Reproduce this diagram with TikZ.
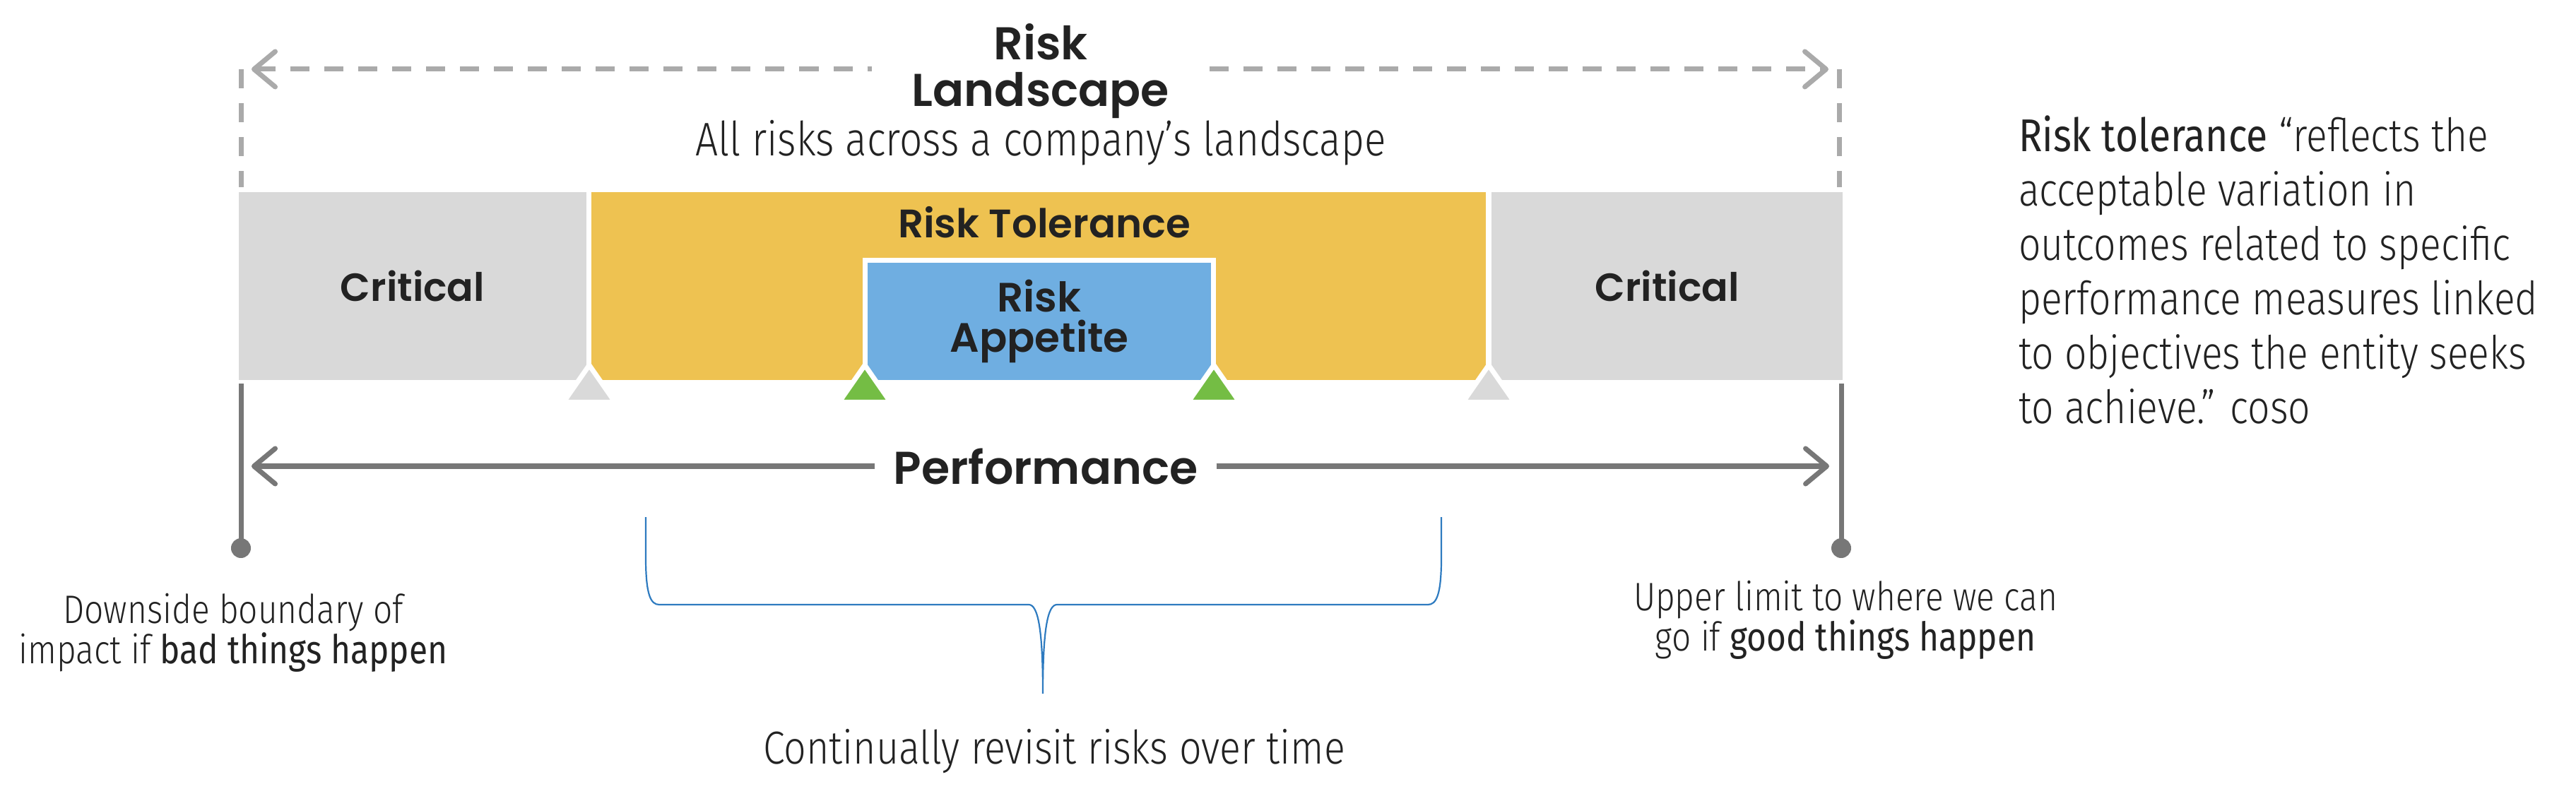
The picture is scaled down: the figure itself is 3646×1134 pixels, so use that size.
\documentclass[tikz,border=0pt]{standalone}
\usepackage{fontspec}
\usetikzlibrary{arrows.meta,positioning}
\newfontfamily\thinfont{Fira Sans Light}[FakeStretch=0.85]
\newfontfamily\plainfont{Fira Sans}[FakeStretch=0.85]
\newfontfamily\headfont{Poppins SemiBold}
\definecolor{tinta}{HTML}{222222}
\definecolor{critgris}{HTML}{D9D9D9}
\definecolor{tolamarillo}{HTML}{EEC251}
\definecolor{appazul}{HTML}{6FAEE1}
\definecolor{tickverde}{HTML}{74BD44}
\definecolor{dashgris}{HTML}{AAAAAA}
\definecolor{linegris}{HTML}{777777}
\definecolor{braceazul}{HTML}{2E7BC0}

\tikzset{
  risk diagram/.style={
      x=0.01cm, y=-0.01cm,
      band/.style={rectangle, minimum height=2.66cm, font={\headfont\fontsize{15.8}{18}\selectfont}},
      appetite/.style={rectangle, fill=appazul, draw=white, line width=0.07cm,
          minimum width=4.93cm, minimum height=1.73cm, align=center,
          font={\headfont\fontsize{16.5}{16.2}\selectfont}},
      tick/.style={draw=white, line width=0.07cm, line join=round},
      head/.style={font={\headfont\fontsize{18.5}{18.5}\selectfont}, align=center},
      note/.style={font={\thinfont\fontsize{16}{16.2}\selectfont}, align=center},
      dash line/.style={dashgris, line width=0.07cm, dash pattern=on 0.27cm off 0.21cm},
      limit line/.style={linegris, line width=0.07cm},
      dot/.style={circle, fill=linegris, minimum size=0.28cm},
      brace line/.style={braceazul, line width=0.022cm},
      >={Straight Barb[length=0.3cm, width=0.5cm, round]},
      every node/.style={inner sep=0pt, outer sep=0pt, text=tinta},
    },
}

\begin{document}
\begin{tikzpicture}[risk diagram]
  \useasboundingbox (0,0) rectangle (3646,1134);

  \node[band, fill=critgris, minimum width=4.92cm] (crit-l) at (584,405) {Critical};
  \node[band, fill=tolamarillo, minimum width=12.66cm] (tol) at (1470,405) {};
  \node[band, fill=critgris, minimum width=4.97cm] (crit-r) at (2359.5,405) {Critical};
  \node[band, anchor=base, font={\headfont\fontsize{16}{18}\selectfont}] (tol-text) at (1478,337) {Risk Tolerance};
  \node[appetite] (app) at (1471,455) {Risk\\Appetite};

  \foreach \x/\c in {834/critgris, 1224/tickverde, 1718/tickverde, 2107/critgris}
    \draw[tick, fill=\c] (\x,517) -- (\x-36.5,569.5) -- (\x+36.5,569.5) -- cycle;

  \node[head, anchor=north, minimum width=4.77cm] (land) at (1473,34) {Risk\\Landscape};
  \node[note, anchor=base, font={\thinfont\fontsize{19}{20}\selectfont}] (land-sub) at (1473,221) {All risks across a company’s landscape};
  \coordinate (land-l) at (341,98);
  \coordinate (land-r) at (2603,98);
  \draw[dash line] (land-l) -- ++(0,167);
  \draw[dash line] (land-r) -- ++(0,167);
  \draw[dash line, <-] ([xshift=0.15cm]land-l) -- (land-l -| land.west);
  \draw[dash line, ->] (land-r -| land.east) -- ([xshift=-0.15cm]land-r);

  \node[dot] (dot-l) at (341,776) {};
  \node[dot] (dot-r) at (2606,776) {};
  \draw[limit line] (dot-l.center) -- ([yshift=-0.05cm]dot-l |- crit-l.south);
  \draw[limit line] (dot-r.center) -- ([yshift=-0.05cm]dot-r |- crit-r.south);

  \node[head, minimum width=4.83cm] (perf) at (1480,660) {Performance};
  \draw[limit line, <-] ([xshift=0.15cm]dot-l |- perf) -- (perf.west);
  \draw[limit line, ->] (perf.east) -- ([xshift=-0.17cm]dot-r |- perf);

  \coordinate (brace-l) at (914,732);
  \coordinate (brace-r) at (2040,732);
  \coordinate (brace-tip) at (1476,982);
  \draw[brace line] (brace-l) -- (914,790) .. controls (914,842) and (921,856) .. (933,856)
    -- (1456,856) .. controls (1469,856) and (1476,890) .. (brace-tip)
    .. controls (1476,890) and (1483,856) .. (1496,856)
    -- (2021,856) .. controls (2033,856) and (2040,842) .. (2040,790) -- (brace-r);

  \node[note, anchor=base, font={\thinfont\fontsize{18.6}{19}\selectfont}] (revisit) at (1492,1081) {Continually revisit risks over time};
  \node[note, anchor=north] (downside) at (330,840) {Downside boundary of\\impact if {\plainfont bad things happen}};
  \node[note, anchor=north] (upper) at (2612,822) {Upper limit to where we can\\go if {\plainfont good things happen}};
  \node[note, anchor=north west, align=left, font={\thinfont\fontsize{18.5}{21.9}\selectfont}] (coso) at (2857,164)
    {{\plainfont Risk tolerance} “reflects the\\acceptable variation in\\outcomes related to specific\\performance measures linked\\to objectives the entity seeks\\to achieve.” coso};
\end{tikzpicture}
\end{document}
